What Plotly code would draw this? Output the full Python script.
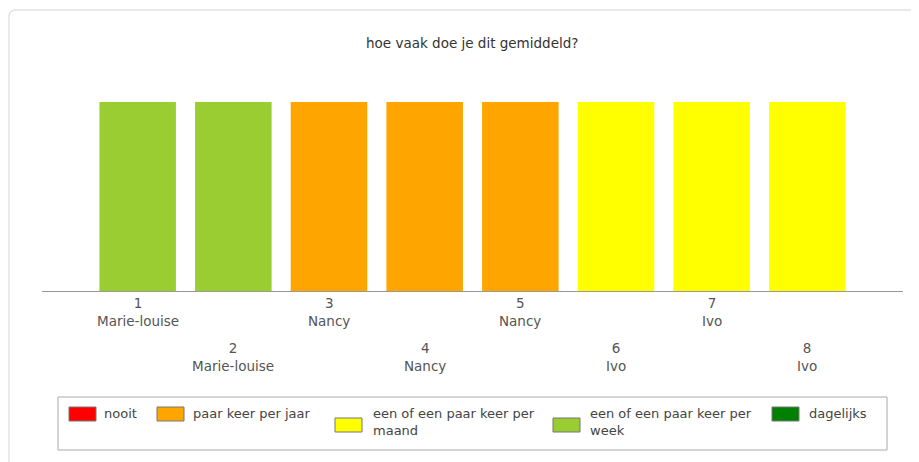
import plotly.graph_objects as go

# ---- data ----
title = "hoe vaak doe je dit gemiddeld?"
numbers = ["1", "2", "3", "4", "5", "6", "7", "8"]
names = ["Marie-louise", "Marie-louise", "Nancy", "Nancy", "Nancy", "Ivo", "Ivo", "Ivo"]
answers = ["een of een paar keer per week", "een of een paar keer per week",
           "paar keer per jaar", "paar keer per jaar", "paar keer per jaar",
           "een of een paar keer per maand", "een of een paar keer per maand",
           "een of een paar keer per maand"]
values = [1, 1, 1, 1, 1, 1, 1, 1]

legend_categories = ["nooit", "paar keer per jaar", "een of een paar keer per maand",
                     "een of een paar keer per week", "dagelijks"]
legend_labels = ["nooit", "paar keer per jaar", "een of een paar keer per<br>maand",
                 "een of een paar keer per<br>week", "dagelijks"]
category_colors = {
    "nooit": "#FF0000",
    "paar keer per jaar": "#FFA500",
    "een of een paar keer per maand": "#FFFF00",
    "een of een paar keer per week": "#9ACD32",
    "dagelijks": "#008000",
}

# ---- layout geometry (pixels in the screenshot; page body has an 8px margin) ----
OFF = 8
W, H = 919 - OFF, 462 - OFF
L, R, T, B = 42, 903, 102, 291
FONT = "DejaVu Sans"


def px(x):
    return (x - L) / (R - L)


def py(y):
    return (B - y) / (B - T)


xs = list(range(len(values)))
fig = go.Figure()
fig.add_trace(go.Bar(
    x=xs, y=values, width=0.8,
    marker=dict(color=[category_colors[a] for a in answers], line=dict(width=0)),
    hoverinfo="skip", showlegend=False,
))

annotations = [dict(text=title, x=px(472), y=py(43), xref="paper", yref="paper",
                    showarrow=False, font=dict(family=FONT, size=13.5, color="#333333"),
                    xanchor="center", yanchor="middle")]

# category labels, staggered
for i, (n, nm) in enumerate(zip(numbers, names)):
    annotations.append(dict(
        text=f"{n}<br>{nm}", x=xs[i], y=0, xref="x", yref="y",
        showarrow=False, xanchor="center", yanchor="top",
        yshift=-2 if i % 2 == 0 else -47,
        font=dict(family=FONT, size=13.5, color="#555555"),
    ))

shapes = []
# outer rounded border
shapes.append(dict(
    type="path", xref="paper", yref="paper",
    path=(f"M {px(9)},{py(470)} L {px(9)},{py(17)} "
          f"Q {px(9)},{py(10)} {px(16)},{py(10)} L {px(930)},{py(10)}"),
    line=dict(color="#e2e2e2", width=1.5), layer="below",
))
# legend box
shapes.append(dict(type="rect", xref="paper", yref="paper",
                   x0=px(58), x1=px(887), y0=py(397), y1=py(450),
                   line=dict(color="#aaaaaa", width=1), fillcolor="rgba(0,0,0,0)"))

swatch_x = [69, 157, 335, 553, 772]
text_x = [102, 191, 371, 588, 807]
for cat, lab, sx, tx in zip(legend_categories, legend_labels, swatch_x, text_x):
    two = "<br>" in lab
    y0 = 418 if two else 407
    shapes.append(dict(type="rect", xref="paper", yref="paper",
                       x0=px(sx), x1=px(sx + 27), y0=py(y0), y1=py(y0 + 14),
                       fillcolor=category_colors[cat],
                       line=dict(color="#777777", width=1)))
    annotations.append(dict(text=lab, x=px(tx), y=py(404), xref="paper", yref="paper",
                            showarrow=False, xanchor="left", yanchor="top", align="left",
                            font=dict(family=FONT, size=13, color="#444444")))

fig.update_layout(
    width=W, height=H,
    margin=dict(l=L - OFF, r=W - (R - OFF), t=T - OFF, b=H - (B - OFF), pad=0),
    paper_bgcolor="white", plot_bgcolor="white",
    xaxis=dict(range=[-1, 8], showgrid=False, zeroline=False, showticklabels=False,
               ticks="", showline=True, linecolor="#999999", linewidth=1, fixedrange=True),
    yaxis=dict(range=[0, 1], showgrid=False, zeroline=False, showticklabels=False,
               ticks="", showline=False, fixedrange=True),
    bargap=0.2,
    annotations=annotations, shapes=shapes,
    showlegend=False,
)

fig.write_html("out.html", config={"displayModeBar": False})
